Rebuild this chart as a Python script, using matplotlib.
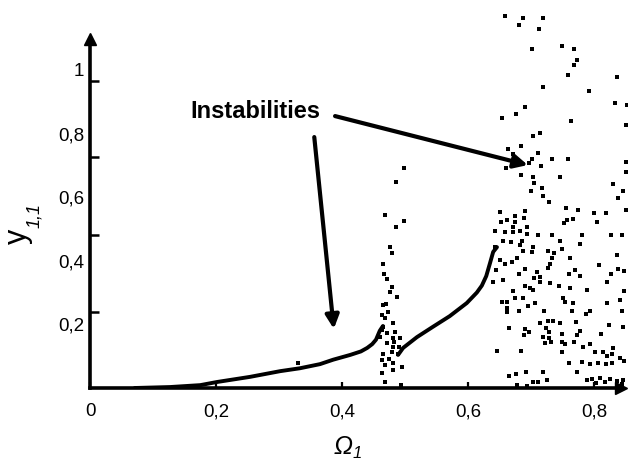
import matplotlib
matplotlib.use("Agg")
import matplotlib.pyplot as plt
import numpy as np

plt.rcParams["font.family"] = ["Liberation Sans", "DejaVu Sans"]

# stable periodic branch below the first instability
left_x = [0.071, 0.127, 0.175, 0.202, 0.254, 0.302, 0.333, 0.365, 0.386, 0.413, 0.430, 0.440, 0.448, 0.454, 0.460, 0.465]
left_y = [0.000, 0.003, 0.009, 0.019, 0.035, 0.053, 0.062, 0.075, 0.089, 0.104, 0.115, 0.126, 0.138, 0.152, 0.180, 0.195]

# stable branch between the two instability zones
right_x = [0.489, 0.497, 0.519, 0.544, 0.571, 0.598, 0.614, 0.622, 0.629, 0.635, 0.640, 0.646]
right_y = [0.104, 0.126, 0.160, 0.192, 0.226, 0.267, 0.300, 0.322, 0.352, 0.393, 0.428, 0.443]

# first (narrow) instability zone
cluster_pts = [
    (0.498, 0.692), (0.486, 0.648), (0.468, 0.544), (0.498, 0.525), (0.486, 0.506),
    (0.476, 0.443), (0.479, 0.425), (0.465, 0.390), (0.467, 0.358), (0.471, 0.343),
    (0.479, 0.318), (0.476, 0.302), (0.487, 0.286), (0.470, 0.264), (0.465, 0.261),
    (0.473, 0.239), (0.463, 0.230), (0.468, 0.220), (0.481, 0.204), (0.484, 0.176),
    (0.463, 0.182), (0.471, 0.173), (0.492, 0.157), (0.481, 0.157), (0.471, 0.142),
    (0.481, 0.129), (0.490, 0.129), (0.479, 0.113), (0.465, 0.107), (0.489, 0.107),
    (0.463, 0.088), (0.475, 0.091), (0.481, 0.079), (0.468, 0.072), (0.481, 0.057),
    (0.495, 0.066), (0.463, 0.047), (0.468, 0.019), (0.494, 0.009), (0.460, 0.160),
    (0.483, 0.145), (0.465, 0.192),
]

stray_pts = [(0.330, 0.079)]

# second (wide) instability zone, top to bottom
chaos_pts = [
    (0.659, 1.170), (0.687, 1.164), (0.719, 1.164), (0.681, 1.142), (0.713, 1.129),
    (0.702, 1.066), (0.749, 1.075), (0.768, 1.066), (0.773, 1.031), (0.768, 1.016),
    (0.759, 0.984), (0.837, 0.978), (0.719, 0.947), (0.792, 0.934), (0.690, 0.884),
    (0.833, 0.896), (0.852, 0.890), (0.676, 0.862), (0.654, 0.849), (0.763, 0.840),
    (0.851, 0.827),
    (0.714, 0.802), (0.703, 0.792), (0.684, 0.761), (0.663, 0.752), (0.671, 0.736),
    (0.711, 0.739), (0.702, 0.720), (0.733, 0.720), (0.759, 0.720), (0.697, 0.708),
    (0.716, 0.698), (0.660, 0.692), (0.684, 0.670), (0.703, 0.664), (0.746, 0.664),
    (0.705, 0.645), (0.717, 0.629), (0.700, 0.619), (0.719, 0.604), (0.729, 0.585),
    (0.830, 0.642), (0.846, 0.619), (0.838, 0.597), (0.851, 0.711), (0.851, 0.679),
    (0.756, 0.566), (0.775, 0.560), (0.800, 0.550), (0.819, 0.550), (0.690, 0.557),
    (0.651, 0.553), (0.675, 0.541), (0.662, 0.528), (0.652, 0.522), (0.689, 0.535),
    (0.757, 0.528), (0.752, 0.519), (0.767, 0.531), (0.805, 0.522), (0.851, 0.560),
    (0.675, 0.522), (0.694, 0.506), (0.671, 0.506), (0.683, 0.494), (0.643, 0.494),
    (0.659, 0.491), (0.671, 0.491), (0.694, 0.484), (0.711, 0.481), (0.733, 0.481),
    (0.781, 0.481), (0.827, 0.481), (0.844, 0.481), (0.656, 0.462), (0.668, 0.459),
    (0.686, 0.462), (0.746, 0.462), (0.778, 0.453), (0.643, 0.443), (0.683, 0.450),
    (0.703, 0.443), (0.687, 0.431), (0.702, 0.428), (0.727, 0.431), (0.737, 0.425),
    (0.749, 0.437), (0.678, 0.409), (0.733, 0.409), (0.762, 0.409), (0.837, 0.418),
    (0.651, 0.403), (0.670, 0.396), (0.659, 0.390), (0.730, 0.390), (0.808, 0.387),
    (0.644, 0.371), (0.690, 0.374), (0.710, 0.365), (0.727, 0.377), (0.770, 0.371),
    (0.760, 0.358), (0.778, 0.352), (0.838, 0.374), (0.848, 0.368), (0.681, 0.358),
    (0.705, 0.346), (0.714, 0.349), (0.827, 0.358), (0.640, 0.333), (0.656, 0.340),
    (0.714, 0.333), (0.730, 0.330), (0.821, 0.333), (0.690, 0.321), (0.698, 0.314),
    (0.744, 0.321), (0.671, 0.305), (0.703, 0.308), (0.762, 0.314), (0.789, 0.308),
    (0.848, 0.305), (0.675, 0.283), (0.687, 0.283), (0.751, 0.283), (0.654, 0.270),
    (0.662, 0.270), (0.706, 0.267), (0.754, 0.270), (0.767, 0.267), (0.821, 0.267),
    (0.841, 0.277), (0.695, 0.258), (0.662, 0.252), (0.662, 0.239), (0.681, 0.242),
    (0.721, 0.242), (0.765, 0.242), (0.794, 0.242), (0.787, 0.233), (0.844, 0.242),
    (0.714, 0.204), (0.727, 0.211), (0.735, 0.211), (0.746, 0.204), (0.771, 0.208),
    (0.824, 0.198), (0.846, 0.192), (0.665, 0.189), (0.690, 0.186), (0.724, 0.189),
    (0.778, 0.179), (0.697, 0.176), (0.689, 0.167), (0.729, 0.176), (0.749, 0.170),
    (0.773, 0.167), (0.811, 0.170), (0.719, 0.160), (0.729, 0.157), (0.722, 0.142),
    (0.732, 0.145), (0.749, 0.145), (0.754, 0.138), (0.768, 0.145), (0.783, 0.129),
    (0.794, 0.138), (0.830, 0.126), (0.646, 0.116), (0.684, 0.116), (0.749, 0.113),
    (0.802, 0.113), (0.814, 0.113), (0.821, 0.101), (0.829, 0.107), (0.841, 0.094),
    (0.848, 0.085), (0.781, 0.082), (0.760, 0.079), (0.794, 0.075), (0.806, 0.079),
    (0.819, 0.075), (0.829, 0.079), (0.773, 0.050), (0.665, 0.038), (0.676, 0.044),
    (0.692, 0.050), (0.719, 0.050), (0.703, 0.019), (0.711, 0.019), (0.725, 0.025),
    (0.789, 0.025), (0.797, 0.028), (0.810, 0.031), (0.817, 0.019), (0.825, 0.028),
    (0.837, 0.022), (0.844, 0.013), (0.803, 0.016), (0.678, 0.009), (0.694, 0.006),
    (0.846, 0.025),
]

x_ticks = [0, 0.2, 0.4, 0.6, 0.8]
x_tick_labels = ["0", "0,2", "0,4", "0,6", "0,8"]
y_ticks = [0.2, 0.4, 0.6, 0.8, 1.0]
y_tick_labels = ["0,2", "0,4", "0,6", "0,8", "1"]
y_tick_marks = [0.239, 0.481, 0.726, 0.965]

fig = plt.figure(figsize=(6.28, 4.63), dpi=100)
ax = fig.add_axes([90 / 628, 75 / 463, 538 / 628, 388 / 463])
ax.set_xlim(0, 0.854)
ax.set_ylim(0, 1.22)

ax.plot(left_x, left_y, color="k", lw=2.8, solid_capstyle="round", solid_joinstyle="round")
ax.plot(right_x, right_y, color="k", lw=2.8, solid_capstyle="round", solid_joinstyle="round")
for pts in (cluster_pts, chaos_pts, stray_pts):
    px, py = np.array(pts).T
    ax.plot(px, py, "s", ms=2.4, mew=0, color="k", clip_on=False)

# axes drawn as arrows
for side in ("top", "right"):
    ax.spines[side].set_visible(False)
ax.spines["left"].set_linewidth(2.6)
ax.spines["bottom"].set_linewidth(2.6)
ax.spines["left"].set_bounds(0, 1.09)
ax.spines["bottom"].set_bounds(0, 0.84)
ax.plot(0, 1.097, "^k", ms=8, clip_on=False)
ax.plot(0.843, 0, ">k", ms=8, clip_on=False)

ax.set_xticks(x_ticks, labels=x_tick_labels)
ax.tick_params(axis="x", direction="in", length=4.5, width=1.6, pad=11, labelsize=13.5)
ax.set_yticks(y_ticks, labels=y_tick_labels)
ax.tick_params(axis="y", which="major", length=0, pad=4, labelsize=13.5)
ax.set_yticks(y_tick_marks, minor=True)
ax.tick_params(axis="y", which="minor", direction="in", length=6.5, width=1.8)

# italic indices are set as separate texts next to the axis titles
ax.set_xlabel("Ω", fontsize=18, fontstyle="italic")
ax.xaxis.set_label_coords(0.47, -0.122)
ax.annotate("1", xy=(1, 0), xycoords=ax.xaxis.label, xytext=(0.5, -1),
            textcoords="offset points", fontsize=12, fontstyle="italic", va="bottom")

ax.set_ylabel("y", fontsize=22)
ax.yaxis.set_label_coords(-0.107, 0.39)
ax.annotate("1,1", xy=(1, 1), xycoords=ax.yaxis.label, xytext=(-4.5, 1),
            textcoords="offset points", fontsize=13, fontstyle="italic",
            rotation=90, ha="left", va="bottom")

ax.text(0.159, 0.849, "Instabilities", fontsize=17, fontweight="bold", va="baseline", ha="left")
arrow_style = dict(arrowstyle="-|>", lw=3, color="k", mutation_scale=20, shrinkA=0, shrinkB=0)
ax.annotate("", xy=(0.695, 0.701), xytext=(0.389, 0.855), arrowprops=arrow_style)
ax.annotate("", xy=(0.387, 0.186), xytext=(0.356, 0.789), arrowprops=arrow_style)

fig.savefig("out.png", dpi=100)
